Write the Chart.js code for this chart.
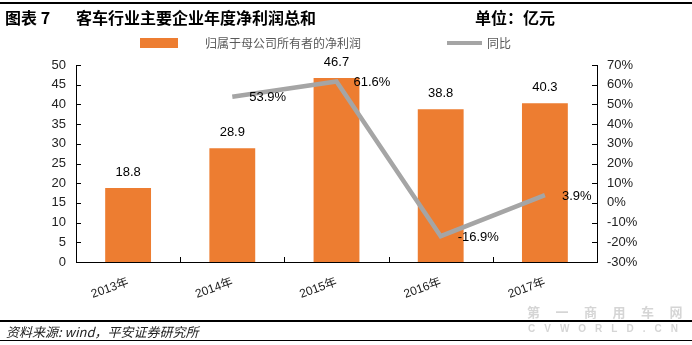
<!DOCTYPE html>
<html>
<head>
<meta charset="utf-8">
<script src="https://cdn.jsdelivr.net/npm/chart.js@4.4.1/dist/chart.umd.min.js"></script>
<style>
  html, body { margin: 0; padding: 0; background: #fff; }
  #wrap { position: relative; width: 692px; height: 345px; overflow: hidden;
          font-family: "Liberation Sans", "Noto Sans CJK SC", sans-serif; }
  #wrap canvas { position: absolute; left: 0; top: 0; }
  .rule { position: absolute; left: 0; width: 692px; background: #000; }
  .txt { position: absolute; white-space: nowrap; }
  .title { font-family: "Noto Sans CJK SC", sans-serif; font-weight: bold; font-size: 16px;
           color: #000; top: 6px; line-height: 22px; }
  .legtxt { font-family: "Noto Sans CJK SC", sans-serif; font-size: 12px; color: #595959;
            top: 35px; line-height: 16px; }
  .src { font-family: "Noto Sans CJK SC", sans-serif; font-style: italic; font-size: 13px;
         color: #222; left: 6px; top: 323px; line-height: 18px; }
  .wm { font-family: "Noto Sans CJK SC", sans-serif; color: rgba(185,185,185,0.6);
        font-weight: bold; }
</style>
</head>
<body>
<div id="wrap">
  <canvas id="c" width="692" height="345"></canvas>

  <div class="rule" style="top:2px;height:2px;"></div>
  <div class="txt title" style="left:5px;">图表 7</div>
  <div class="txt title" style="left:76px;">客车行业主要企业年度净利润总和</div>
  <div class="txt title" style="left:475px;">单位：亿元</div>

  <div id="legBox" style="position:absolute;left:140px;top:38px;width:38px;height:10px;"></div>
  <div id="legBar" class="txt legtxt" style="left:205px;"></div>
  <div id="legLine" style="position:absolute;left:447px;top:41px;width:35px;height:4px;"></div>
  <div id="legLineTxt" class="txt legtxt" style="left:487px;"></div>

  <div class="txt wm" style="left:527px;top:302px;font-size:13px;letter-spacing:15.5px;">第一商用车网</div>
  <div class="txt wm" style="left:528px;top:323px;font-size:10px;letter-spacing:9px;font-family:'Liberation Sans',sans-serif;">CVWORLD.CN</div>

  <div class="rule" style="top:320px;height:2px;"></div>
  <div class="txt src">资料来源: wind，平安证券研究所</div>
  <div class="rule" style="top:340px;height:1px;"></div>
</div>

<script>
// Years on the category axis
const years = ['2013年', '2014年', '2015年', '2016年', '2017年'];
// Net profit attributable to parent-company owners, 100 million yuan
const netProfit = [18.8, 28.9, 46.7, 38.8, 40.3];
// Year-on-year growth, percent (no prior year for 2013)
const yoyGrowth = [null, 53.9, 61.6, -16.9, 3.9];
// Series names
const barName = '归属于母公司所有者的净利润';
const lineName = '同比';

const ORANGE = '#ED7D31';
const GREY = '#A5A5A5';
const FONT = '"Liberation Sans", "Noto Sans CJK SC", sans-serif';

document.getElementById('legBox').style.background = ORANGE;
document.getElementById('legLine').style.background = GREY;
document.getElementById('legBar').textContent = barName;
document.getElementById('legLineTxt').textContent = lineName;

// Short tick marks pointing into the plot area on every axis
const innerTicks = {
  id: 'innerTicks',
  afterDraw(chart) {
    const ctx = chart.ctx;
    const a = chart.chartArea;
    const len = 5;
    ctx.save();
    ctx.strokeStyle = '#000';
    ctx.lineWidth = 1;
    ctx.beginPath();
    const yl = chart.scales.y;
    yl.ticks.forEach((t, i) => {
      const py = Math.round(yl.getPixelForTick(i)) + 0.5;
      ctx.moveTo(a.left, py); ctx.lineTo(a.left + len, py);
    });
    const yr = chart.scales.y1;
    yr.ticks.forEach((t, i) => {
      const py = Math.round(yr.getPixelForTick(i)) + 0.5;
      ctx.moveTo(a.right, py); ctx.lineTo(a.right - len, py);
    });
    const xs = chart.scales.x;
    const n = xs.ticks.length;
    const step = (a.right - a.left) / n;
    for (let i = 1; i < n; i++) {
      const px = Math.round(a.left + i * step) + 0.5;
      ctx.moveTo(px, a.bottom); ctx.lineTo(px, a.bottom - len);
    }
    ctx.stroke();
    ctx.restore();
  }
};

// Value labels: above each bar, to the right of each line point
const valueLabels = {
  id: 'valueLabels',
  afterDatasetsDraw(chart) {
    const ctx = chart.ctx;
    ctx.save();
    ctx.font = '13px ' + FONT;
    ctx.fillStyle = '#000';
    chart.data.datasets.forEach((ds, di) => {
      const meta = chart.getDatasetMeta(di);
      meta.data.forEach((el, i) => {
        const v = ds.data[i];
        if (v === null || v === undefined) return;
        if (ds.type === 'bar') {
          ctx.textAlign = 'center';
          ctx.textBaseline = 'bottom';
          ctx.fillText(v.toFixed(1), el.x, el.y - 9);
        } else {
          ctx.textAlign = 'left';
          ctx.textBaseline = 'middle';
          ctx.fillText(v.toFixed(1) + '%', el.x + 17, el.y + 1);
        }
      });
    });
    ctx.restore();
  }
};

new Chart(document.getElementById('c'), {
  data: {
    labels: years,
    datasets: [
      {
        type: 'line',
        label: lineName,
        data: yoyGrowth,
        yAxisID: 'y1',
        borderColor: GREY,
        borderWidth: 4.5,
        pointRadius: 0,
        tension: 0,
        spanGaps: false,
        order: 0
      },
      {
        type: 'bar',
        label: barName,
        data: netProfit,
        yAxisID: 'y',
        backgroundColor: ORANGE,
        borderWidth: 0,
        categoryPercentage: 1,
        barPercentage: 0.44,
        order: 1
      }
    ]
  },
  options: {
    responsive: false,
    animation: false,
    devicePixelRatio: 1,
    layout: { padding: { left: 0, right: 0, top: 65, bottom: 0 } },
    plugins: { legend: { display: false }, tooltip: { enabled: false } },
    scales: {
      x: {
        offset: true,
        grid: { display: false, drawTicks: false },
        border: { display: true, color: '#000', width: 1 },
        ticks: {
          minRotation: 20, maxRotation: 20, padding: 13,
          color: '#222', font: { size: 12, family: FONT }
        },
        afterFit(s) { s.height = 83; }
      },
      y: {
        position: 'left',
        min: 0, max: 50,
        grid: { display: false, drawTicks: false },
        border: { display: true, color: '#000', width: 1 },
        ticks: { stepSize: 5, padding: 10, color: '#222', font: { size: 13, family: FONT } },
        afterFit(s) { s.width = 76; }
      },
      y1: {
        position: 'right',
        min: -30, max: 70,
        grid: { display: false, drawTicks: false },
        border: { display: true, color: '#000', width: 1 },
        ticks: {
          stepSize: 10, padding: 10, color: '#222', font: { size: 13, family: FONT },
          callback: v => v + '%'
        },
        afterFit(s) { s.width = 95; }
      }
    }
  },
  plugins: [innerTicks, valueLabels]
});
</script>
</body>
</html>
